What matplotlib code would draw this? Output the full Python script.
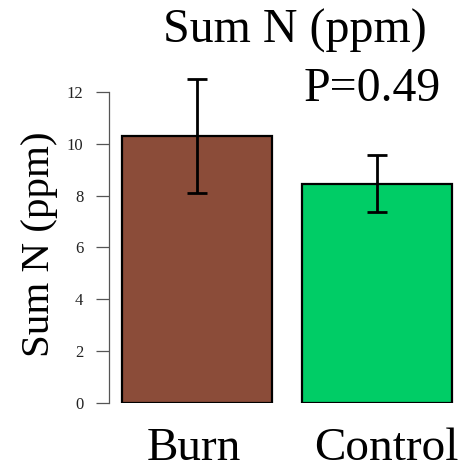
import matplotlib
matplotlib.use("Agg")
import matplotlib.pyplot as plt
from matplotlib.transforms import ScaledTranslation

groups = ["Burn", "Control"]
means = [10.3, 8.45]
errors = [2.2, 1.1]
bar_colors = ["#8B4C39", "#00CD66"]
y_ticks = [0, 2, 4, 6, 8, 10, 12]
title = "Sum N (ppm)"
p_text = "P=0.49"

plt.rcParams["font.family"] = ["Liberation Serif", "DejaVu Serif"]

W, H = 466, 467
fig = plt.figure(figsize=(W/100, H/100), dpi=100)

# axes placed in pixel coords (R-style barplot: width 1, space 0.2)
px_unit = 150.0
y_unit = 25.92
x0 = 0.2 - 13/px_unit
x1 = x0 + (W - 109)/px_unit
ytop = 14
ax = fig.add_axes([109/W, (H-403)/H, (W-109)/W, ytop*y_unit/H])

pos = [0.7, 1.9]
ax.bar(pos, means, width=1.0, color=bar_colors, edgecolor="black", linewidth=1.6, zorder=2)
ax.errorbar(pos, means, yerr=errors, fmt="none", ecolor="black", elinewidth=2,
            capsize=7.5, capthick=2, zorder=3, clip_on=False)

ax.set_xlim(x0, x1)
ax.set_ylim(0, ytop)
for s in ["top", "right", "bottom"]:
    ax.spines[s].set_visible(False)
ax.spines["left"].set_bounds(0, 12)
ax.spines["left"].set_color("#555555")
ax.spines["left"].set_linewidth(0.9)
ax.set_yticks(y_ticks)
ax.tick_params(axis="y", length=9.5, width=0.9, color="#555555", labelsize=12, pad=9, labelcolor="#222222")

ax.set_xticks(pos, groups)
ax.tick_params(axis="x", length=0, labelsize=34, pad=18)
for lab, dx in zip(ax.get_xticklabels(), [-3, 9]):
    lab.set_transform(lab.get_transform() + ScaledTranslation(dx/100, 0, fig.dpi_scale_trans))

fig.text(40/W, 1 - 244/H, title, ha="center", va="center", rotation=90, fontsize=29.5)
fig.text(295/W, 1 - 31/H, title, ha="center", va="center", fontsize=34.5)
fig.text(372/W, 1 - 89/H, p_text, ha="center", va="center", fontsize=34.5)

fig.savefig("out.png", dpi=100)
